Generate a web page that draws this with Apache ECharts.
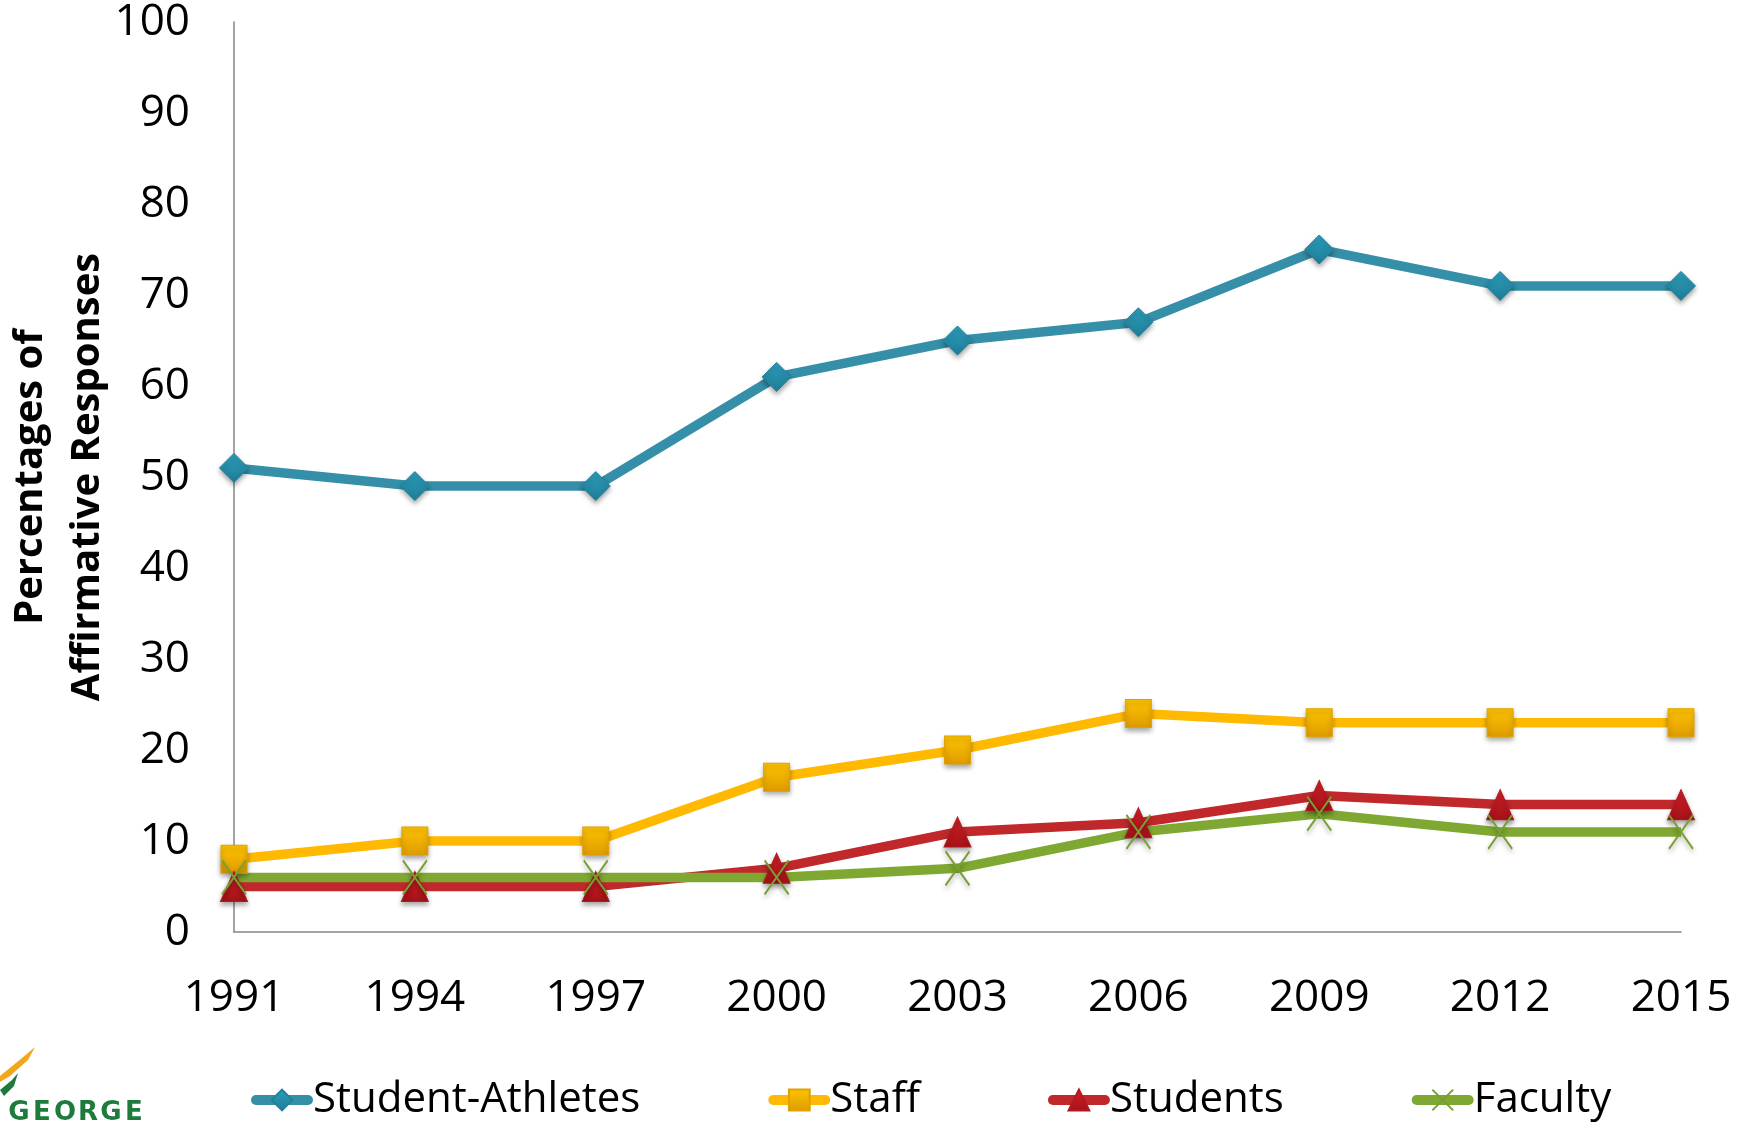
<!DOCTYPE html>
<html>
<head>
<meta charset="utf-8">
<script src="https://cdn.jsdelivr.net/npm/echarts@6/dist/echarts.min.js"></script>
<style>
html,body{margin:0;padding:0;background:#fff;}
#chart{width:1748px;height:1122px;}
</style>
</head>
<body>
<div id="chart"></div>
<script>
var years = ['1991','1994','1997','2000','2003','2006','2009','2012','2015'];
var studentAthletes = [51, 49, 49, 61, 65, 67, 75, 71, 71];
var staff = [8, 10, 10, 17, 20, 24, 23, 23, 23];
var students = [5, 5, 5, 7, 11, 12, 15, 14, 14];
var faculty = [6, 6, 6, 6, 7, 11, 13, 11, 11];
var yTicks = [0, 10, 20, 30, 40, 50, 60, 70, 80, 90, 100];
var seriesNames = ['Student-Athletes', 'Staff', 'Students', 'Faculty'];
var yAxisName = 'Percentages of\nAffirmative Responses';
var logoText = 'GEORGE';

var FONT = '"Open Sans", "Noto Sans", sans-serif';
function grad(a, b) {
  return new echarts.graphic.LinearGradient(0, 0, 0, 1, [{offset: 0, color: a}, {offset: 1, color: b}]);
}
var shadow = {shadowBlur: 5, shadowColor: 'rgba(0,0,0,0.35)', shadowOffsetY: 3};

var graphics = [
  {
    type: 'polygon',
    shape: {points: [[0, 1076], [22, 1058], [35, 1047], [28, 1060], [10, 1076], [0, 1082]]},
    style: {fill: '#F2A71B'}
  },
  {
    type: 'polygon',
    shape: {points: [[0, 1090], [12, 1080], [18, 1073], [14, 1086], [4, 1096]]},
    style: {fill: '#1E7B3C'}
  }
];
logoText.split('').forEach(function (ch, i) {
  graphics.push({
    type: 'text', x: 19 + i * 23, y: 1100,
    style: {text: ch, align: 'center', verticalAlign: 'top', fontFamily: '"DejaVu Sans", sans-serif', fontWeight: 'bold', fontSize: 26, fill: '#1E7B3C'}
  });
});

var chart = echarts.init(document.getElementById('chart'), null, {renderer: 'canvas'});
chart.setOption({
  animation: false,
  backgroundColor: '#ffffff',
  grid: {left: 234, right: 67, top: 22, bottom: 190, containLabel: false, outerBoundsMode: 'none'},
  legend: {
    left: 246, top: 1074,
    itemWidth: 52, itemHeight: 26, itemGap: 128,
    textStyle: {fontFamily: FONT, fontSize: 42, color: '#000'},
    lineStyle: {width: 10, cap: 'round'},
    data: seriesNames
  },
  xAxis: {
    type: 'category',
    data: years,
    boundaryGap: false,
    axisLine: {lineStyle: {color: '#868686', width: 1.5}},
    axisTick: {show: false},
    axisLabel: {fontFamily: FONT, fontSize: 44, color: '#000', margin: 44, interval: 0},
    splitLine: {show: false}
  },
  yAxis: {
    type: 'value',
    min: yTicks[0], max: yTicks[yTicks.length - 1], interval: 10,
    name: yAxisName,
    nameLocation: 'middle',
    nameGap: 118,
    nameRotate: 90,
    nameMoveOverlap: false,
    nameTextStyle: {fontFamily: FONT, fontSize: 40, fontWeight: 'bold', color: '#000', lineHeight: 57, align: 'center'},
    axisLine: {show: true, lineStyle: {color: '#868686', width: 1.5}},
    axisTick: {show: false},
    axisLabel: {fontFamily: FONT, fontSize: 44, color: '#000', margin: 44},
    splitLine: {show: false}
  },
  series: [
    {
      name: seriesNames[0], type: 'line', data: studentAthletes,
      symbol: 'diamond', symbolSize: 29,
      lineStyle: {color: '#358FA8', width: 9.5},
      itemStyle: Object.assign({color: grad('#2C9DBB', '#1F7D97'), borderColor: '#24809a', borderWidth: 1}, shadow)
    },
    {
      name: seriesNames[1], type: 'line', data: staff,
      symbol: 'rect', symbolSize: [26, 28],
      lineStyle: {color: '#FFB900', width: 9.5},
      itemStyle: Object.assign({color: grad('#FFC400', '#DE9B00'), borderColor: '#E0A200', borderWidth: 1}, shadow)
    },
    {
      name: seriesNames[2], type: 'line', data: students,
      symbol: 'triangle', symbolSize: [27, 30],
      lineStyle: {color: '#C0282C', width: 9.5},
      itemStyle: Object.assign({color: grad('#D42028', '#A51218'), borderColor: '#B01A20', borderWidth: 1}, shadow)
    },
    {
      name: seriesNames[3], type: 'line', data: faculty,
      symbol: 'path://M0,0L20,28M20,0L0,28', symbolSize: [24, 34],
      lineStyle: {color: '#7FA832', width: 9.5},
      itemStyle: Object.assign({color: 'rgba(0,0,0,0)', borderColor: '#77A030', borderWidth: 2}, shadow)
    }
  ],
  graphic: graphics
});
</script>
</body>
</html>
